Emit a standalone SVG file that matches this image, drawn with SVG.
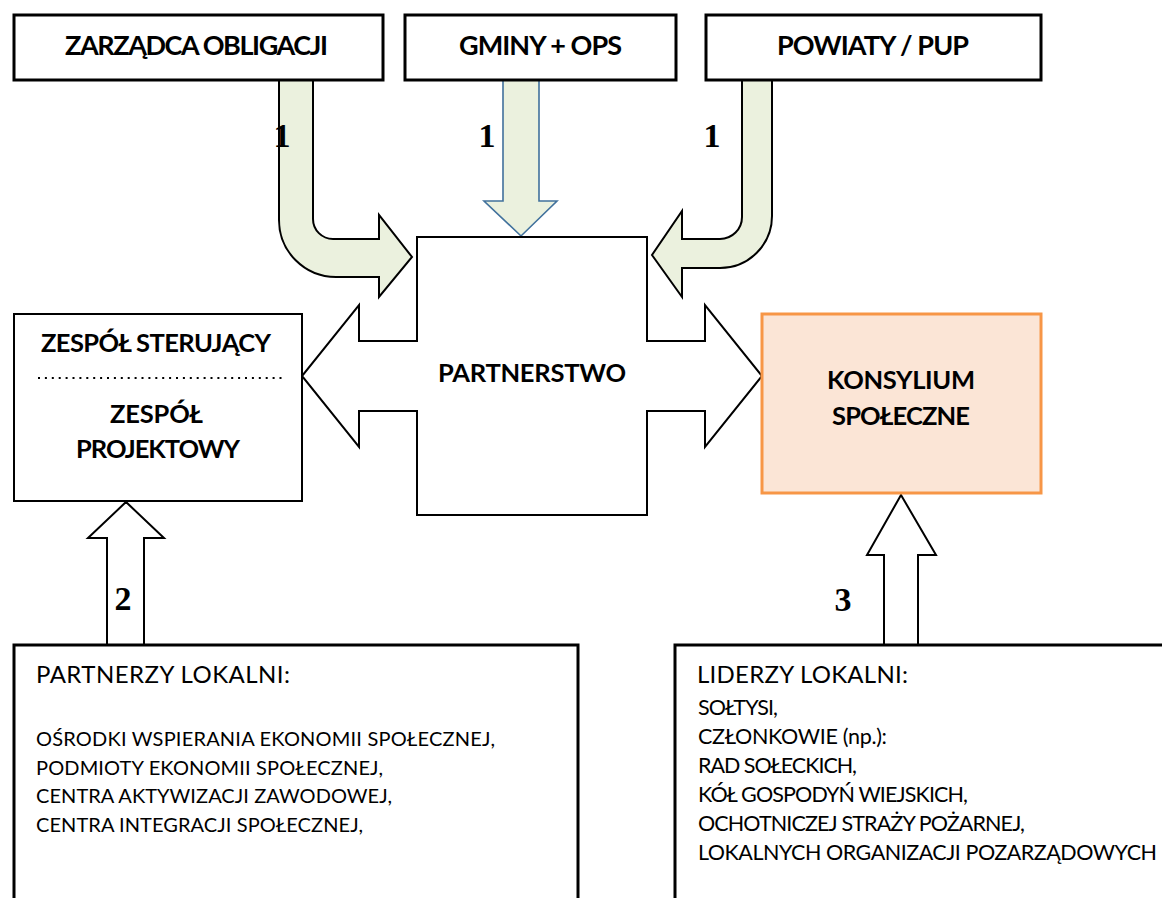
<svg xmlns="http://www.w3.org/2000/svg" width="1162" height="898" viewBox="0 0 1162 898">
<defs>
<style>
.box{fill:#fff;stroke:#000;stroke-width:3}
.thin{fill:#fff;stroke:#000;stroke-width:2}
.green{fill:#EBF1DE;stroke:#000;stroke-width:2;stroke-linejoin:miter}
.blue{fill:#EBF1DE;stroke:#41719C;stroke-width:1.6}
.hollow{fill:#fff;stroke:#000;stroke-width:2}
.b{font-family:Lato,"Liberation Sans",sans-serif;font-weight:bold;fill:#000}
.r{font-family:Lato,"Liberation Sans",sans-serif;font-weight:normal;fill:#000}
.num{font-family:"Liberation Serif","Times New Roman",serif;font-weight:bold;font-size:34px;fill:#000;text-anchor:middle}
</style>
</defs>
<rect width="1162" height="898" fill="#fff"/>
<g id="connectors">
  <path id="arrow-zarzadca" class="green" d="M313,80 L313,219 A20,20 0 0 0 333,239 L379,239 L379,215 L412,257 L379,297 L379,277 L336,277 A57,57 0 0 1 279,220 L279,80 Z"/>
  <path id="arrow-gminy" class="blue" d="M503,80 L539,80 L539,201 L557,201 L521,236 L484,201 L503,201 Z"/>
  <path id="arrow-powiaty" class="green" d="M742,80 L742,217 A22,22 0 0 1 720,239 L682,239 L682,211 L652,255 L682,297 L682,268 L720,268 A52,52 0 0 0 772,216 L772,80 Z"/>
  <path id="arrow-2" class="hollow" d="M107,646 L107,538 L88,538 L126,502 L164,538 L144,538 L144,646"/>
  <path id="arrow-3" class="hollow" d="M884,646 L884,555 L867,555 L901,495 L936,555 L918,555 L918,646"/>
  <text class="num" x="282" y="147">1</text>
  <text class="num" x="487" y="147">1</text>
  <text class="num" x="712" y="147">1</text>
  <text class="num" x="123" y="610">2</text>
  <text class="num" x="843" y="611">3</text>
</g>
<g id="node-zarzadca">
  <rect class="box" x="14" y="15" width="369" height="65"/>
  <text class="b" x="65" y="55" font-size="27" textLength="263">ZARZĄDCA OBLIGACJI</text>
</g>
<g id="node-gminy">
  <rect class="box" x="405" y="15" width="271" height="65"/>
  <text class="b" x="459" y="55" font-size="27" textLength="163">GMINY + OPS</text>
</g>
<g id="node-powiaty">
  <rect class="box" x="706" y="15" width="335" height="65"/>
  <text class="b" x="777" y="55" font-size="27" textLength="192">POWIATY / PUP</text>
</g>
<g id="node-partnerstwo">
  <path class="thin" d="M417,237 L647,237 L647,341 L705,341 L705,305 L762,376 L705,447 L705,411 L647,411 L647,515 L417,515 L417,411 L359,411 L359,447 L302,376 L359,305 L359,341 L417,341 Z"/>
  <text class="b" x="438" y="382" font-size="25.5" textLength="188">PARTNERSTWO</text>
</g>
<g id="node-zespol">
  <rect class="thin" x="14" y="314" width="288" height="187"/>
  <text class="b" x="41" y="352" font-size="25.5" textLength="230">ZESPÓŁ STERUJĄCY</text>
  <line x1="38" y1="378" x2="282" y2="378" stroke="#000" stroke-width="2" stroke-dasharray="2 4.9"/>
  <text class="b" x="110" y="423" font-size="25.5" textLength="93">ZESPÓŁ</text>
  <text class="b" x="76" y="458" font-size="25.5" textLength="164">PROJEKTOWY</text>
</g>
<g id="node-konsylium">
  <rect x="762" y="314" width="279" height="179" fill="#FBE5D6" stroke="#F79646" stroke-width="3"/>
  <text class="b" x="827" y="389" font-size="25.5" textLength="148">KONSYLIUM</text>
  <text class="b" x="832" y="425" font-size="25.5" textLength="138">SPOŁECZNE</text>
</g>
<g id="node-partnerzy">
  <rect class="box" x="14" y="645" width="564" height="270"/>
  <text class="r" x="36" y="683" font-size="24" textLength="254">PARTNERZY LOKALNI:</text>
  <text class="r" x="36" y="746" font-size="20" textLength="459">OŚRODKI WSPIERANIA EKONOMII SPOŁECZNEJ,</text>
  <text class="r" x="36" y="775" font-size="20" textLength="347">PODMIOTY EKONOMII SPOŁECZNEJ,</text>
  <text class="r" x="36" y="803" font-size="20" textLength="356">CENTRA AKTYWIZACJI ZAWODOWEJ,</text>
  <text class="r" x="36" y="832" font-size="20" textLength="327">CENTRA INTEGRACJI SPOŁECZNEJ,</text>
</g>
<g id="node-liderzy">
  <rect class="box" x="675" y="645" width="500" height="270"/>
  <text class="r" x="697" y="683" font-size="24" textLength="211">LIDERZY LOKALNI:</text>
  <text class="r" x="698" y="715" font-size="21.5" textLength="80">SOŁTYSI,</text>
  <text class="r" x="698" y="744" font-size="21.5" textLength="189">CZŁONKOWIE (np.):</text>
  <text class="r" x="698" y="773" font-size="21.5" textLength="159">RAD SOŁECKICH,</text>
  <text class="r" x="698" y="802" font-size="21.5" textLength="270">KÓŁ GOSPODYŃ WIEJSKICH,</text>
  <text class="r" x="698" y="831" font-size="21.5" textLength="327">OCHOTNICZEJ STRAŻY POŻARNEJ,</text>
  <text class="r" x="698" y="860" font-size="21.5" textLength="459">LOKALNYCH ORGANIZACJI POZARZĄDOWYCH</text>
</g>
</svg>
